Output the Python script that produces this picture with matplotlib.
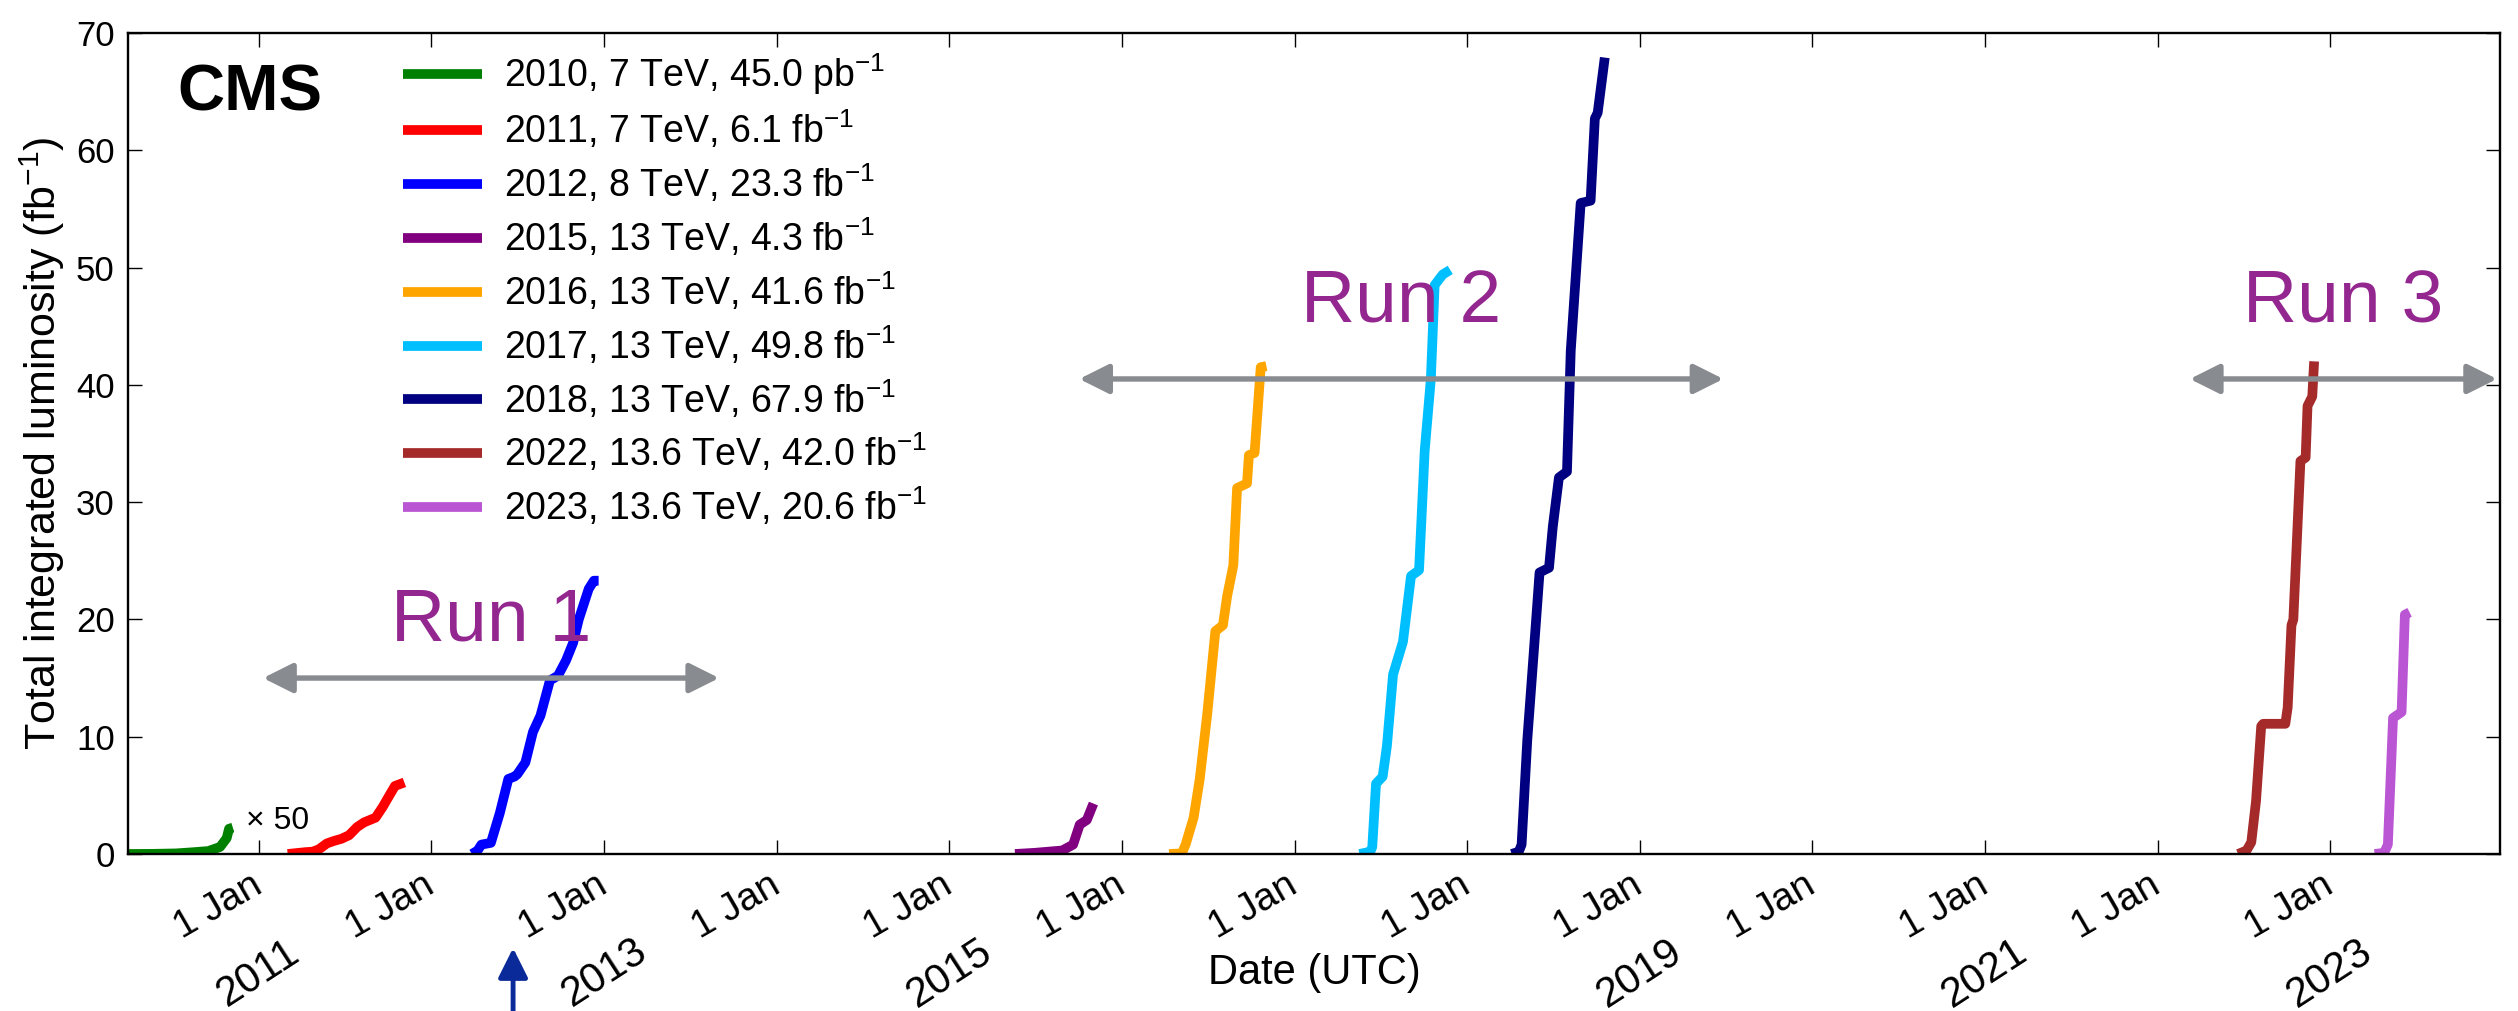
import datetime as dt
import matplotlib
matplotlib.use("Agg")
import matplotlib.pyplot as plt
import matplotlib.dates as mdates
from matplotlib.transforms import blended_transform_factory

plt.rcParams['font.family'] = ['Liberation Sans', 'DejaVu Sans']
plt.rcParams['mathtext.fontset'] = 'custom'
plt.rcParams['mathtext.rm'] = 'Liberation Sans'
plt.rcParams['mathtext.it'] = 'Liberation Sans:italic'
plt.rcParams['mathtext.bf'] = 'Liberation Sans:bold'

# ---------------------------------------------------------
# cumulative delivered luminosity per year
# ---------------------------------------------------------
# 2010 is in pb^-1 and gets scaled by 50 (then shown in fb^-1)
dates_2010 = ["2010-03-30", "2010-05-20", "2010-07-10", "2010-08-15", "2010-09-16",
              "2010-10-11", "2010-10-25", "2010-10-30", "2010-11-07"]
lumi_2010_pb = [0.0, 0.2, 1.0, 3.0, 5.0, 12.0, 27.0, 43.0, 45.0]
scale_2010 = 50

dates_2011 = ["2011-03-03", "2011-04-08", "2011-04-25", "2011-05-08", "2011-05-25",
              "2011-06-08", "2011-06-25", "2011-07-11", "2011-07-28", "2011-08-12",
              "2011-09-05", "2011-09-20", "2011-09-30", "2011-10-16", "2011-11-05"]
lumi_2011 = [0.0, 0.15, 0.2, 0.4, 0.9, 1.1, 1.3, 1.6, 2.3, 2.7, 3.1, 4.0, 4.7, 5.8, 6.1]

dates_2012 = ["2012-03-27", "2012-04-08", "2012-04-16", "2012-05-06", "2012-05-25",
              "2012-06-12", "2012-06-25", "2012-07-01", "2012-07-18", "2012-08-03",
              "2012-08-19", "2012-09-08", "2012-09-25", "2012-10-12", "2012-10-27",
              "2012-11-08", "2012-11-29", "2012-12-10", "2012-12-20"]
lumi_2012 = [0.0, 0.3, 0.8, 0.95, 3.5, 6.4, 6.6, 6.8, 7.8, 10.4, 11.8, 14.8, 15.2,
             16.5, 18.0, 20.0, 22.6, 23.3, 23.3]

dates_2015 = ["2015-05-20", "2015-07-01", "2015-08-28", "2015-09-20", "2015-10-04",
              "2015-10-19", "2015-11-02"]
lumi_2015 = [0.0, 0.1, 0.3, 0.8, 2.5, 2.9, 4.3]

dates_2016 = ["2016-04-10", "2016-05-07", "2016-05-15", "2016-06-01", "2016-06-14",
              "2016-06-30", "2016-07-17", "2016-08-02", "2016-08-11", "2016-08-24",
              "2016-09-01", "2016-09-22", "2016-09-26", "2016-10-08", "2016-10-21",
              "2016-11-02"]
lumi_2016 = [0.0, 0.05, 0.8, 3.1, 6.4, 12.0, 19.0, 19.5, 22.0, 24.6, 31.2, 31.6,
             34.0, 34.2, 41.5, 41.6]

dates_2017 = ["2017-05-18", "2017-06-10", "2017-06-14", "2017-06-22", "2017-07-06",
              "2017-07-15", "2017-07-28", "2017-08-18", "2017-09-04", "2017-09-21",
              "2017-10-03", "2017-10-16", "2017-10-24", "2017-11-10", "2017-11-26"]
lumi_2017 = [0.0, 0.2, 0.6, 6.0, 6.6, 9.2, 15.3, 18.1, 23.7, 24.2, 34.4, 40.5,
             48.5, 49.4, 49.8]

dates_2018 = ["2018-04-05", "2018-04-20", "2018-04-26", "2018-05-08", "2018-05-25",
              "2018-06-03", "2018-06-23", "2018-07-01", "2018-07-14", "2018-07-31",
              "2018-08-08", "2018-08-29", "2018-09-19", "2018-09-28", "2018-10-04",
              "2018-10-19"]
lumi_2018 = [0.0, 0.2, 0.8, 9.7, 19.0, 24.0, 24.4, 27.9, 32.1, 32.6, 42.9, 55.5,
             55.7, 62.7, 63.2, 67.9]

dates_2022 = ["2022-06-20", "2022-07-08", "2022-07-18", "2022-07-28", "2022-08-08",
              "2022-08-12", "2022-09-28", "2022-10-03", "2022-10-11", "2022-10-15",
              "2022-10-30", "2022-11-10", "2022-11-14", "2022-11-24", "2022-11-28"]
lumi_2022 = [0.0, 0.3, 1.0, 4.5, 10.9, 11.1, 11.1, 12.5, 19.5, 20.0, 33.5, 33.8,
             38.2, 39.0, 42.0]

dates_2023 = ["2023-04-05", "2023-04-25", "2023-05-03", "2023-05-14", "2023-06-01",
              "2023-06-08", "2023-06-18"]
lumi_2023 = [0.0, 0.1, 0.8, 11.6, 12.1, 20.4, 20.6]

legend_labels = [
    "2010, 7 TeV, 45.0 pb$^{-1}$",
    "2011, 7 TeV, 6.1 fb$^{-1}$",
    "2012, 8 TeV, 23.3 fb$^{-1}$",
    "2015, 13 TeV, 4.3 fb$^{-1}$",
    "2016, 13 TeV, 41.6 fb$^{-1}$",
    "2017, 13 TeV, 49.8 fb$^{-1}$",
    "2018, 13 TeV, 67.9 fb$^{-1}$",
    "2022, 13.6 TeV, 42.0 fb$^{-1}$",
    "2023, 13.6 TeV, 20.6 fb$^{-1}$",
]
line_colors = ["green", "red", "blue", "purple", "orange", "deepskyblue", "navy",
               "brown", "mediumorchid"]

# run periods (start, end) and label heights
run_names = ["Run 1", "Run 2", "Run 3"]
run_spans = [("2011-01-10", "2013-09-01"), ("2015-10-03", "2019-06-27"),
             ("2022-03-10", "2023-12-20")]
run_arrow_y = [15.0, 40.5, 40.5]
run_label_y = [18.2, 45.3, 45.3]

year_labels = [2011, 2013, 2015, 2019, 2021, 2023]
higgs_date = "2012-06-22"


def to_dates(strs):
    return [dt.datetime.strptime(s, "%Y-%m-%d") for s in strs]


fig = plt.figure(figsize=(25.18, 10.11), dpi=100)
ax = fig.add_axes([0.0508, 0.1553, 0.9420, 0.8121])

series = [
    (dates_2010, [v * scale_2010 / 1000.0 for v in lumi_2010_pb]),
    (dates_2011, lumi_2011),
    (dates_2012, lumi_2012),
    (dates_2015, lumi_2015),
    (dates_2016, lumi_2016),
    (dates_2017, lumi_2017),
    (dates_2018, lumi_2018),
    (dates_2022, lumi_2022),
    (dates_2023, lumi_2023),
]
for (d, v), col, lab in zip(series, line_colors, legend_labels):
    ax.plot(to_dates(d), v, color=col, lw=7, label=lab, solid_capstyle='butt')

ax.text(dt.datetime(2010, 12, 5), 2.8, "\u00d7 50", fontsize=23,
        ha='left', va='center')

# axes, ticks
ax.set_xlim(dt.datetime(2010, 3, 30), dt.datetime(2023, 12, 26))
ax.set_ylim(0, 70)
ax.set_yticks(range(0, 71, 10))
ax.xaxis.set_major_locator(mdates.YearLocator())
ax.xaxis.set_major_formatter(mdates.DateFormatter('%-d %b'))
ax.tick_params(direction='in', top=True, right=True, length=10, width=1)
ax.tick_params(axis='y', labelsize=25, pad=9.5)
ax.tick_params(axis='x', labelsize=28, pad=21)
plt.setp(ax.get_xticklabels(), rotation=30, ha='right', va='center',
         rotation_mode='anchor')
for sp in ax.spines.values():
    sp.set_linewidth(1.7)

ax.set_xlabel('Date (UTC)', fontsize=30)
ax.xaxis.set_label_coords(0.5, -0.145)
ax.xaxis.label.set_va('center')
ax.set_ylabel('Total integrated luminosity (fb$^{-1}$)', fontsize=31)
ax.yaxis.set_label_coords(-0.0363, 0.5)
ax.yaxis.label.set_va('center')

# year labels under the date ticks
trans = blended_transform_factory(ax.transData, ax.transAxes)
for yr in year_labels:
    ax.text(dt.datetime(yr, 1, 1), -0.145, str(yr), transform=trans,
            rotation=33, ha='center', va='center', fontsize=30)

# run arrows + labels
for name, (s, e), ya, yl in zip(run_names, run_spans, run_arrow_y, run_label_y):
    d0, d1 = to_dates([s, e])
    ax.annotate('', xy=(d1, ya), xytext=(d0, ya),
                arrowprops=dict(arrowstyle='<|-|>,head_length=1.8,head_width=0.9',
                                color='#888b8f', lw=3.9, shrinkA=0, shrinkB=0))
    mid = d0 + (d1 - d0) / 2
    ax.text(mid, yl, name, color='#93278f', fontsize=54, ha='center',
            va='baseline')

# upward arrow below the axis in 2012
hd = to_dates([higgs_date])[0]
ax.annotate('', xy=(hd, 0.0623), xytext=(hd, 0.0), xycoords=('data', 'figure fraction'),
            textcoords=('data', 'figure fraction'), annotation_clip=False,
            arrowprops=dict(arrowstyle='-|>,head_length=1.8,head_width=0.9',
                            color='#0b2a9a', lw=3.5, shrinkA=0, shrinkB=0))

ax.text(0.021, 0.906, 'CMS', transform=ax.transAxes, fontsize=47,
        fontweight='bold', ha='left', va='baseline')

ax.legend(loc='upper left', bbox_to_anchor=(0.1159, 0.977), frameon=False,
          fontsize=27, borderpad=0, borderaxespad=0, handlelength=2.1,
          handletextpad=0.6, labelspacing=0.3)

fig.savefig('out.png', dpi=100)
